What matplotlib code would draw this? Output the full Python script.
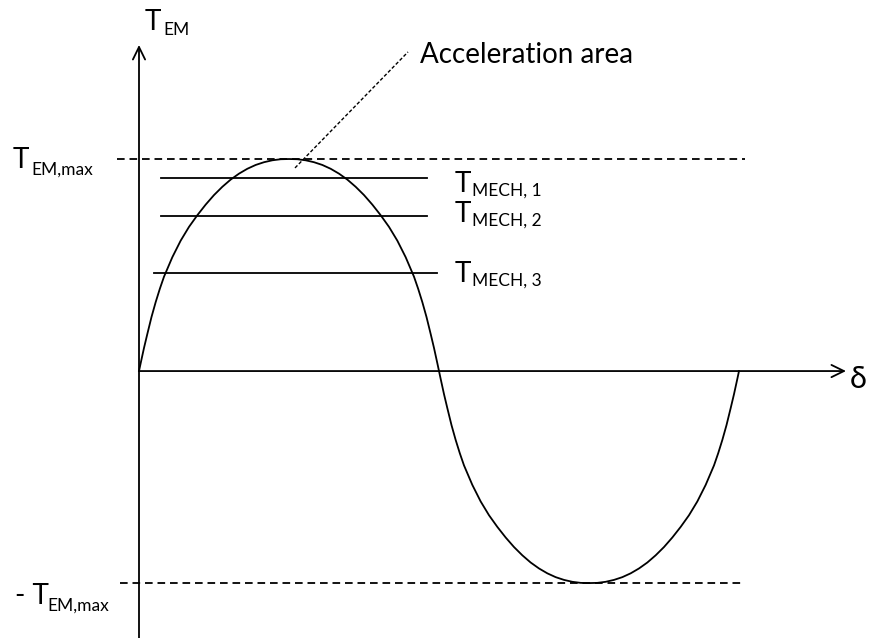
import numpy as np
import matplotlib
matplotlib.use("Agg")
import matplotlib.pyplot as plt

plt.rcParams["font.family"] = ["Lato", "DejaVu Sans"]
plt.rcParams["lines.scale_dashes"] = False

# Torque curve, first quarter of the wave (load angle in degrees, torque in p.u. of T_EM,max)
quarter_delta = [0, 1, 2, 3, 5, 7.5, 10, 12.5, 15, 20, 25, 30, 35, 40, 45,
                 50, 55, 60, 65, 70, 75, 80, 85, 90]
quarter_torque = [0.0, 0.037, 0.073, 0.109, 0.175, 0.255, 0.325, 0.388,
                  0.445, 0.537, 0.615, 0.680, 0.735, 0.785, 0.830, 0.869,
                  0.903, 0.931, 0.954, 0.972, 0.985, 0.994, 0.999, 1.0]
T_EM_MAX = 1.0

# Mechanical torque levels and the span of each level line (degrees)
mech_labels = ["MECH, 1", "MECH, 2", "MECH, 3"]
mech_levels = [0.91, 0.731, 0.462]
mech_start = [13.2, 13.2, 9.0]
mech_end = [172.8, 172.8, 178.8]

# full period built from the quarter wave by its symmetry
qd = np.array(quarter_delta, dtype=float)
qt = np.array(quarter_torque) * T_EM_MAX
half_d = np.concatenate([qd, 180 - qd[::-1][1:]])
half_t = np.concatenate([qt, qt[::-1][1:]])
delta = np.concatenate([half_d, 180 + half_d[1:]])
torque = np.concatenate([half_t, -half_t[1:]])

fig = plt.figure(figsize=(8.74, 6.38), dpi=100)
ax = fig.add_axes([0, 0, 1, 1])
ax.set_xlim(-83.4, 441.0)
ax.set_ylim(-1.259, 1.75)
ax.axis("off")

LW = 1.3
arrow = dict(arrowstyle="->,head_length=0.45,head_width=0.22", lw=LW,
             color="black", shrinkA=0, shrinkB=0, mutation_scale=20)
ax.annotate("", xy=(0, 1.538), xytext=(0, -1.26), arrowprops=arrow)
ax.annotate("", xy=(424.2, 0), xytext=(0, 0), arrowprops=arrow)

ax.plot(delta, torque, color="black", lw=LW, solid_joinstyle="round")

dash = (0, (5.5, 3.5))
ax.plot([-13.2, 363.6], [T_EM_MAX, T_EM_MAX], color="black", lw=LW, linestyle=dash)
ax.plot([-11.4, 363.6], [-T_EM_MAX, -T_EM_MAX], color="black", lw=LW, linestyle=dash)

for lvl, x0, x1 in zip(mech_levels, mech_start, mech_end):
    ax.plot([x0, x1], [lvl, lvl], color="black", lw=LW)

ax.plot([93.6, 161.4], [0.958, 1.505], color="black", lw=1.0,
        linestyle=(0, (2.5, 1.5)))

FS = 20
SUB = 12.5


def torque_label(x, y, sub, prefix="", dx=13.0, dy=-4.0):
    main = prefix + "T"
    ax.text(x, y, main, fontsize=FS, va="baseline", ha="left")
    ax.annotate(sub, xy=(x, y), xytext=(dx, dy), textcoords="offset points",
                fontsize=SUB, va="baseline", ha="left")


ax.text(168.6, 1.454, "Acceleration area", fontsize=FS, va="baseline", ha="left")
torque_label(3.6, 1.608, "EM", dy=-3.5)
torque_label(-75.6, 0.958, "EM,max", dy=-4.5)
torque_label(-74.4, -1.099, "EM,max", prefix="- ", dx=23.0, dy=-4.5)
mech_text_y = [0.844, 0.703, 0.42]
for lab, ty in zip(mech_labels, mech_text_y):
    torque_label(189.6, ty, lab, dx=12.5, dy=-2.5)
ax.text(426.6, -0.08, "δ", fontsize=22, va="baseline", ha="left")

fig.savefig("out.png", dpi=100)
